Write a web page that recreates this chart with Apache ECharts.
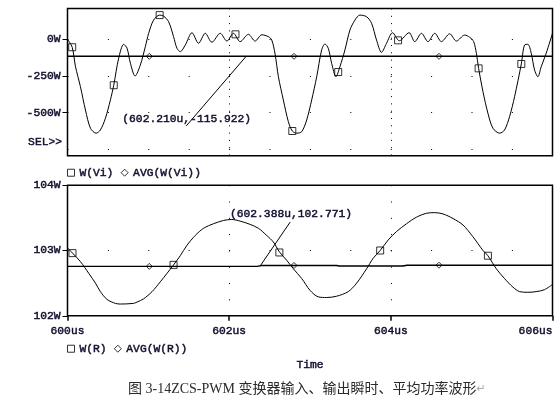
<!DOCTYPE html>
<html><head><meta charset="utf-8">
<script src="https://cdn.jsdelivr.net/npm/echarts@6/dist/echarts.min.js"></script>
<style>html,body{margin:0;padding:0;background:#fff}#c{width:559px;height:401px}</style>
</head><body><div id="c"></div>
<script>
// ---- data (time in us, power in W) ----
const viTime = [600.0,600.058,600.099,600.160,600.222,600.284,600.354,600.407,600.469,600.531,600.572,600.633,600.695,600.737,600.778,600.836,600.901,600.963,601.004,601.065,601.140,601.189,601.251,601.312,601.354,601.395,601.457,601.540,601.621,601.704,601.786,601.889,601.972,602.053,602.136,602.238,602.321,602.404,602.485,602.527,602.568,602.609,602.670,602.732,602.781,602.836,602.898,602.959,603.021,603.083,603.144,603.185,603.226,603.268,603.321,603.370,603.432,603.494,603.556,603.617,603.700,603.762,603.823,603.885,603.947,604.021,604.105,604.226,604.296,604.379,604.460,604.543,604.626,604.728,604.811,604.914,604.975,605.025,605.058,605.086,605.140,605.201,605.263,605.346,605.407,605.469,605.531,605.614,605.654,605.695,605.737,605.778,605.819,605.860,605.922,606.0];
const viPower = [0,-54,-187,-323,-482,-606,-640,-618,-538,-413,-313,-129,-34,-61,-163,-250,-175,-50,41,131,165,158,120,18,-61,-84,-39,45,-27,41,-20,41,-12,41,-16,34,-12,31,18,-5,-100,-255,-413,-561,-625,-640,-629,-550,-413,-255,-73,-32,-61,-164,-255,-187,-73,63,131,165,154,109,-5,-89,-27,45,-10,45,-16,41,-16,41,-16,38,-12,29,14,-16,-95,-198,-357,-504,-606,-640,-618,-527,-391,-168,-39,-34,-95,-209,-255,-187,-95,41];
const viAvgTime = [600, 606];
const viAvgPower = [-115.922, -115.922];
const viSquareTime = [600.058,600.572,601.140,602.078,602.781,603.349,604.090,605.086,605.614];
const viSquarePower = [-54,-313,165,34,-625,-223,-7,-198,-168];
const viDiamondTime = [601.012,602.802,604.596];

const rTime = [600.0,600.062,600.160,600.263,600.346,600.407,600.490,600.593,600.654,600.815,600.860,600.942,601.046,601.148,601.231,601.312,601.395,601.478,601.580,601.683,601.806,601.930,602.033,602.136,602.259,602.362,602.465,602.547,602.621,602.712,602.794,602.898,603.000,603.102,603.206,603.330,603.473,603.577,603.700,603.781,603.868,603.967,604.070,604.194,604.317,604.441,604.543,604.646,604.769,604.893,605.016,605.140,605.201,605.305,605.407,605.510,605.593,605.695,605.798,605.901,606.0];
const rPower = [103.04,102.96,102.83,102.65,102.50,102.37,102.25,102.19,102.18,102.19,102.21,102.26,102.37,102.52,102.65,102.78,102.92,103.08,103.23,103.34,103.41,103.46,103.475,103.45,103.40,103.34,103.23,103.13,102.98,102.85,102.72,102.57,102.39,102.29,102.28,102.30,102.37,102.50,102.72,102.88,103.00,103.16,103.29,103.41,103.51,103.57,103.58,103.56,103.49,103.39,103.21,103.00,102.92,102.72,102.57,102.44,102.37,102.36,102.37,102.40,102.48];
const rAvgTime = [600, 602.35, 602.40, 603.33, 603.36, 604.15, 604.20, 606];
const rAvgPower = [102.757, 102.757, 102.771, 102.771, 102.762, 102.762, 102.775, 102.775];
const rSquareTime = [600.062,601.312,602.621,603.868,605.201];
const rSquarePower = [102.96,102.78,102.97,103.00,102.92];
const rDiamondTime = [601.012,602.802,604.596];

const xTicks = [600, 602, 604, 606];
const viTickLabels = [-500, -250, 0];
const viGridRows = [0, -250, -500, -750];
const rTickLabels = [102, 103, 104];

const viCursor = [602.210, -115.922];
const rCursor = [602.388, 102.771];

// ---- helpers ----
const zip = (a, b) => a.map((v, i) => [v, b[i]]);
const fill = (a, v) => a.map(t => [t, v]);
const interp = (ts, vs, t) => { for (let i = 1; i < ts.length; i++) { if (t <= ts[i]) { const f = (t - ts[i-1]) / (ts[i] - ts[i-1]); return vs[i-1] + f * (vs[i] - vs[i-1]); } } return vs[vs.length-1]; };

const FONT = 'Liberation Mono';
const TXT = '#10102e';
const fs = 11.3;
const T = {fontFamily: FONT, fontSize: fs, fontWeight: 'normal', color: TXT, textBorderColor: TXT, textBorderWidth: 0.45};

const chart = echarts.init(document.getElementById('c'), null, {renderer: 'canvas'});
const hollow = {color: 'rgba(255,255,255,0)', borderColor: '#000', borderWidth: 1};
const mk = (name, sym, size) => ({
  name, type: 'scatter', symbol: sym, symbolSize: size, silent: true, z: 5, itemStyle: hollow
});
const legendItem = (name, icon) => ({name, icon, itemStyle: hollow});

const option = {
  animation: false,
  backgroundColor: '#fff',
  textStyle: {fontFamily: FONT},
  title: {
    text: '{a|图 3-14ZCS-PWM 变换器输入、输出瞬时、平均功率波形}{b|↵}',
    left: 123, top: 377,
    textStyle: {fontWeight: 'normal', rich: {
      a: {fontFamily: 'Liberation Serif, Noto Sans CJK SC', fontSize: 14, fontWeight: 'normal', color: '#2a2a2a'},
      b: {fontFamily: 'DejaVu Sans', fontSize: 11, fontWeight: 'normal', color: '#aaa'}
    }}
  },
  grid: [
    {left: 67.5, top: 8.5, width: 485, height: 147.3, show: true, borderColor: '#000', borderWidth: 1.5, backgroundColor: 'transparent'},
    {left: 67.5, top: 185.2, width: 485, height: 130.6, show: true, borderColor: '#000', borderWidth: 1.5, backgroundColor: 'transparent'}
  ],
  legend: [
    {data: [legendItem('W(Vi)', 'rect'), legendItem('AVG(W(Vi))', 'diamond')], left: 67, top: 167, itemWidth: 7, itemHeight: 7, itemGap: 7, padding: 0,
     itemStyle: hollow, textStyle: T, selectedMode: false},
    {data: [legendItem('W(R)', 'rect'), legendItem('AVG(W(R))', 'diamond')], left: 67, top: 343, itemWidth: 7, itemHeight: 7, itemGap: 7, padding: 0,
     itemStyle: hollow, textStyle: T, selectedMode: false}
  ],
  xAxis: [
    {type: 'value', gridIndex: 0, min: 600, max: 606, interval: 2,
     axisLine: {show: false}, axisTick: {show: false}, axisLabel: {show: false},
     splitLine: {show: true, showMinLine: false, showMaxLine: false, lineStyle: {color: '#000', width: 1, type: [1, 6.3]}}},
    {type: 'value', gridIndex: 1, min: 600, max: 606, interval: 2,
     axisLine: {show: false}, axisTick: {show: true, length: 5, lineStyle: {color: '#000', width: 1.5}},
     axisLabel: Object.assign({show: true, margin: 10, formatter: v => v + 'us', alignMaxLabel: 'right', customValues: xTicks}, T),
     name: 'Time', nameLocation: 'middle', nameGap: 44, nameTextStyle: T,
     splitLine: {show: true, showMinLine: false, showMaxLine: false, lineStyle: {color: '#000', width: 1, type: [1, 15.3]}}}
  ],
  yAxis: [
    {type: 'value', gridIndex: 0, min: -794, max: 210,
     axisLine: {show: false},
     axisTick: {show: true, length: 5, customValues: viTickLabels, lineStyle: {color: '#000', width: 1}},
     axisLabel: Object.assign({show: true, margin: 7, customValues: viTickLabels, formatter: v => v + 'W'}, T),
     splitLine: {show: false}},
    {type: 'value', gridIndex: 1, min: 102, max: 104, interval: 1,
     axisLine: {show: false},
     axisTick: {show: true, length: 5, lineStyle: {color: '#000', width: 1}},
     axisLabel: Object.assign({show: true, margin: 7, customValues: rTickLabels, formatter: v => v + 'W'}, T),
     splitLine: {show: true, showMinLine: false, showMaxLine: false, lineStyle: {color: '#000', width: 1, type: [1, 39.4]}}}
  ],
  graphic: [
    {type: 'text', x: 62, y: 142, style: {text: 'SEL>>', font: fs + 'px ' + FONT, fill: TXT, stroke: TXT, lineWidth: 0.45, align: 'right', verticalAlign: 'middle'}}
  ],
  series: [
    {name: 'viCurve', type: 'line', xAxisIndex: 0, yAxisIndex: 0, data: zip(viTime, viPower), showSymbol: false, smooth: 0.3,
     lineStyle: {color: '#000', width: 1}, silent: true, z: 3},
    {name: 'viAvg', type: 'line', xAxisIndex: 0, yAxisIndex: 0, data: zip(viAvgTime, viAvgPower), showSymbol: false,
     lineStyle: {color: '#000', width: 1.4}, silent: true, z: 3,
     markLine: {silent: true, symbol: 'none', label: {show: false}, animation: false,
       data: [
         ...viGridRows.map(v => ({yAxis: v, lineStyle: {color: '#000', width: 1, type: [1, 39.4]}})),
         [{coord: viCursor, lineStyle: {color: '#000', width: 1, type: 'solid'}}, {coord: [601.47, -590]}]
       ]},
     markPoint: {silent: true, symbol: 'circle', symbolSize: 0, animation: false,
       data: [{coord: [600.678, -543], label: Object.assign({show: true, position: 'right', distance: 0,
         formatter: '(' + viCursor[0].toFixed(3) + 'u,' + viCursor[1].toFixed(3) + ')'}, T)}]}},
    Object.assign(mk('W(Vi)', 'rect', 7), {xAxisIndex: 0, yAxisIndex: 0, data: zip(viSquareTime, viSquarePower)}),
    Object.assign(mk('AVG(W(Vi))', 'diamond', 6), {xAxisIndex: 0, yAxisIndex: 0, data: fill(viDiamondTime, viAvgPower[0])}),

    {name: 'rCurve', type: 'line', xAxisIndex: 1, yAxisIndex: 1, data: zip(rTime, rPower), showSymbol: false, smooth: 0.3,
     lineStyle: {color: '#000', width: 1}, silent: true, z: 3},
    {name: 'rAvg', type: 'line', xAxisIndex: 1, yAxisIndex: 1, data: zip(rAvgTime, rAvgPower), showSymbol: false,
     lineStyle: {color: '#000', width: 1.4}, silent: true, z: 3,
     markLine: {silent: true, symbol: 'none', label: {show: false}, animation: false,
       data: [[{coord: rCursor, lineStyle: {color: '#000', width: 1, type: 'solid'}}, {coord: [602.755, 103.436]}]]},
     markPoint: {silent: true, symbol: 'circle', symbolSize: 0, animation: false,
       data: [{coord: [602.010, 103.554], label: Object.assign({show: true, position: 'right', distance: 0,
         formatter: '(' + rCursor[0].toFixed(3) + 'u,' + rCursor[1].toFixed(3) + ')'}, T)}]}},
    Object.assign(mk('W(R)', 'rect', 7), {xAxisIndex: 1, yAxisIndex: 1, data: zip(rSquareTime, rSquarePower)}),
    Object.assign(mk('AVG(W(R))', 'diamond', 6), {xAxisIndex: 1, yAxisIndex: 1, data: rDiamondTime.map(t => [t, interp(rAvgTime, rAvgPower, t)])})
  ]
};
chart.setOption(option);
</script>
</body></html>
